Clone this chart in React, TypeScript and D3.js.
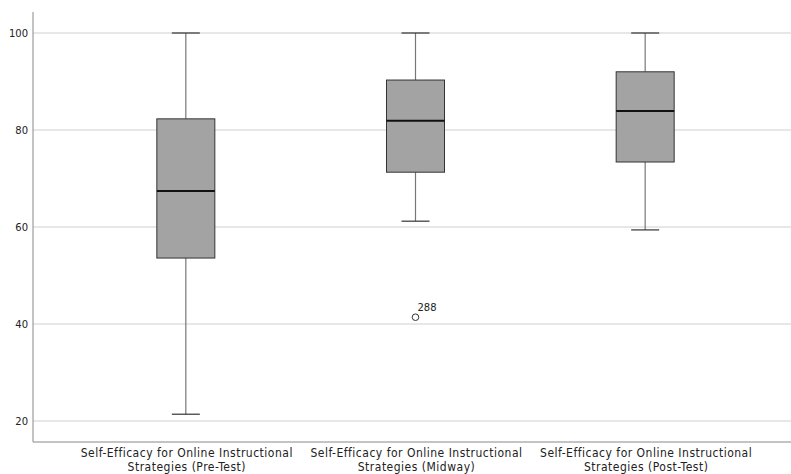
import React from "react";
import * as d3 from "d3";

const categories = ["Pre-Test", "Midway", "Post-Test"];
const labelLine1 = ["Self-Efficacy for Online Instructional", "Self-Efficacy for Online Instructional", "Self-Efficacy for Online Instructional"];
const labelLine2 = ["Strategies (Pre-Test)", "Strategies (Midway)", "Strategies (Post-Test)"];
const whiskerLow = [21.4, 61.2, 59.4];
const q1 = [53.6, 71.3, 73.4];
const median = [67.4, 81.9, 83.9];
const q3 = [82.3, 90.3, 92.0];
const whiskerHigh = [100, 100, 100];
const outliers = [{ cat: 1, value: 41.4, label: "288" }];
const yTicks = [20, 40, 60, 80, 100];

export default function App() {
  const W = 791, H = 474;
  const left = 33, right = 791, top = 12, bottom = 442;
  const x = d3.scaleBand<number>().domain([0, 1, 2]).range([71, 760]);
  const y = d3.scaleLinear().domain([20, 100]).range([421, 33]);
  const boxW = 58, capW = 28;
  const font = "'DejaVu Sans Condensed', 'DejaVu Sans', sans-serif";
  return (
    <svg width={W} height={H} style={{ position: "absolute", left: 0, top: 0, background: "#fff" }}>
      {yTicks.map(t => (
        <g key={t}>
          <line x1={left} x2={right} y1={y(t)} y2={y(t)} stroke="#d0d0d0" strokeWidth={1.2} />
          <text x={28} y={y(t)} dy="0.35em" textAnchor="end" fontSize={10} fontFamily="'DejaVu Sans', sans-serif" fill="#222">{t}</text>
        </g>
      ))}
      <line x1={left} x2={left} y1={top} y2={bottom} stroke="#888" strokeWidth={1} />
      <line x1={left} x2={right} y1={bottom} y2={bottom} stroke="#888" strokeWidth={1} />
      {categories.map((c, i) => {
        const cx = x(i)! + x.bandwidth() / 2;
        return (
          <g key={c}>
            <line x1={cx} x2={cx} y1={y(whiskerHigh[i])} y2={y(q3[i])} stroke="#777" strokeWidth={1.2} />
            <line x1={cx} x2={cx} y1={y(q1[i])} y2={y(whiskerLow[i])} stroke="#777" strokeWidth={1.2} />
            <line x1={cx - capW / 2} x2={cx + capW / 2} y1={y(whiskerHigh[i])} y2={y(whiskerHigh[i])} stroke="#333" strokeWidth={1.2} />
            <line x1={cx - capW / 2} x2={cx + capW / 2} y1={y(whiskerLow[i])} y2={y(whiskerLow[i])} stroke="#333" strokeWidth={1.2} />
            <rect x={cx - boxW / 2} width={boxW} y={y(q3[i])} height={y(q1[i]) - y(q3[i])} fill="#a3a3a3" stroke="#333" strokeWidth={1} />
            <line x1={cx - boxW / 2} x2={cx + boxW / 2} y1={y(median[i])} y2={y(median[i])} stroke="#111" strokeWidth={2} />
            <text x={cx + 1} y={457} textAnchor="middle" fontSize={12} letterSpacing={0.5} fontFamily={font} fill="#222">{labelLine1[i]}</text>
            <text x={cx + 1} y={471} textAnchor="middle" fontSize={12} letterSpacing={0.5} fontFamily={font} fill="#222">{labelLine2[i]}</text>
          </g>
        );
      })}
      {outliers.map((o, k) => {
        const cx = x(o.cat)! + x.bandwidth() / 2;
        return (
          <g key={k}>
            <circle cx={cx} cy={y(o.value)} r={3.3} fill="none" stroke="#333" strokeWidth={1} />
            <text x={cx + 2} y={y(o.value) - 6} fontSize={10} fontFamily="'DejaVu Sans', sans-serif" fill="#222">{o.label}</text>
          </g>
        );
      })}
    </svg>
  );
}
